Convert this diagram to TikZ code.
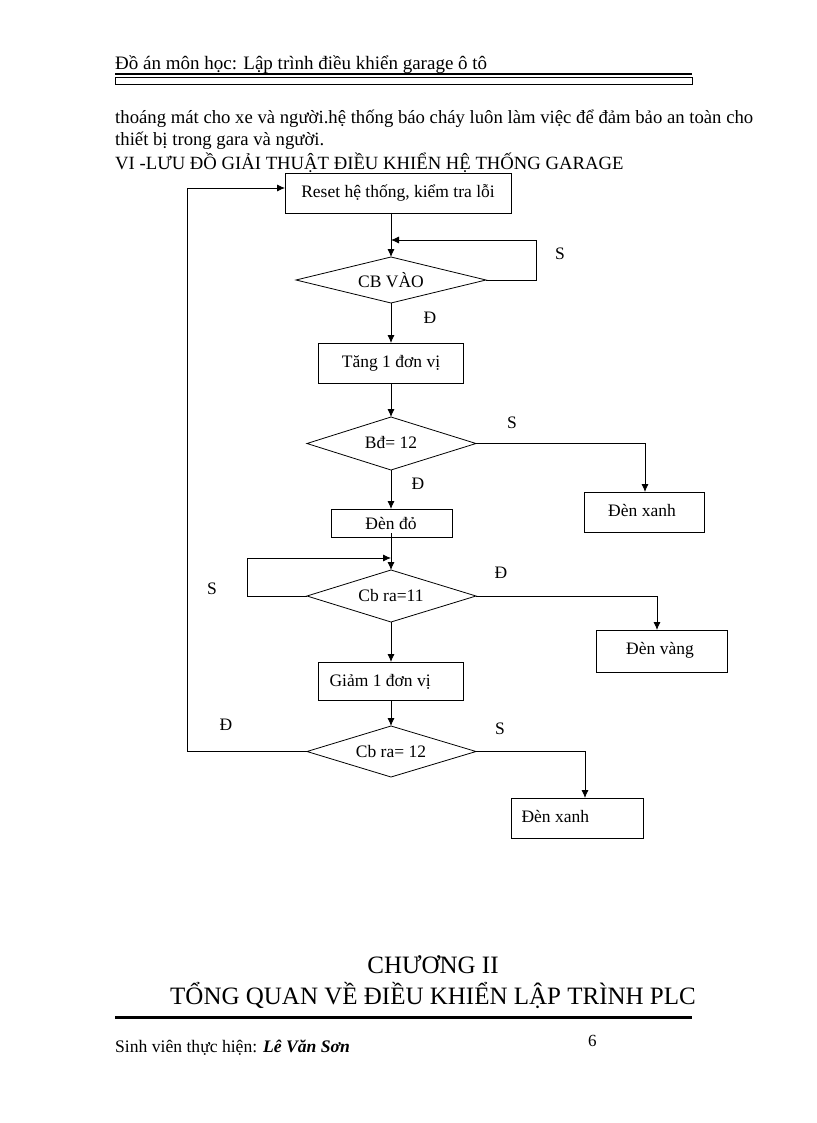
\documentclass[tikz,border=0pt]{standalone}
\usepackage{fontspec}
\setmainfont{Liberation Serif}
\usetikzlibrary{shapes.geometric,arrows.meta}
\begin{document}
\begin{tikzpicture}[x=1pt,y=-1pt,
  box/.style={draw,thick,inner sep=0pt},
  dia/.style={draw,thick,inner sep=0pt},
  lab/.style={font=\fontsize{17.5}{20}\selectfont},
  txt/.style={anchor=base west,inner sep=0pt,font=\fontsize{18.7}{22}\selectfont},
  ar/.style={thick,-{Latex[length=8pt,width=7pt]}},
  ln/.style={thick}]
\useasboundingbox (0,0) rectangle (816,1123);
% header
\node[txt,font=\fontsize{19}{22}\selectfont] (hd) at (115,70) {Đồ án môn học:  Lập trình điều khiển garage ô tô};
\draw[line width=2.5pt] (115,74) -- (692,74);
\draw[thick] (115,77.5) rectangle (692,84);
\node[txt] (p1) at (115,124) {thoáng mát cho xe và người.hệ thống báo cháy luôn làm việc để đảm bảo an toàn cho};
\node[txt] (p2) at (115,146) {thiết bị trong gara và người.};
\node[txt] (h1) at (115,170) {VI -LƯU ĐỒ GIẢI THUẬT ĐIỀU KHIỂN HỆ THỐNG GARAGE};
% flowchart
\draw[box] (285,173) rectangle (511,213);
\node[lab] (reset) at (398,193) {Reset hệ thống, kiểm tra lỗi};
\coordinate (resetL) at (285,188);
\coordinate (resetB) at (391,213);
\draw[dia] (296,280) -- (391,257) -- (486,280) -- (391,303) -- cycle;
\node[lab] (d1) at (391,280) {CB VÀO};
\coordinate (d1T) at (391,257); \coordinate (d1R) at (486,280); \coordinate (d1B) at (391,303);
\draw[box] (318,343) rectangle (463,383);
\node[lab] (b2) at (391,363) {Tăng 1 đơn vị};
\coordinate (b2T) at (391,343); \coordinate (b2B) at (391,383);
\draw[dia] (307,443.5) -- (391,417) -- (476,443.5) -- (391,470) -- cycle;
\node[lab] (d2) at (391,443) {Bđ= 12};
\coordinate (d2T) at (391,417); \coordinate (d2R) at (476,443.5); \coordinate (d2B) at (391,470);
\draw[box] (584,492) rectangle (704,532);
\node[lab] (x1) at (642,510) {Đèn xanh};
\coordinate (x1T) at (645,492);
\draw[box] (331,509) rectangle (452,537);
\node[lab] (do) at (391,523) {Đèn đỏ};
\coordinate (doT) at (391,509); \coordinate (doB) at (391,533);
\draw[dia] (307,596) -- (391,570) -- (476,596) -- (391,622) -- cycle;
\node[lab] (d3) at (391,596) {Cb ra=11};
\coordinate (d3T) at (391,570); \coordinate (d3L) at (307,596); \coordinate (d3R) at (476,596); \coordinate (d3B) at (391,622);
\draw[box] (596,630) rectangle (727,672);
\node[lab] (vang) at (660,650) {Đèn vàng};
\coordinate (vangT) at (657,630);
\draw[box] (318,662) rectangle (463,700);
\node[lab,anchor=west] (b3) at (326,682) {Giảm 1 đơn vị};
\coordinate (b3T) at (391,662); \coordinate (b3B) at (391,700);
\draw[dia] (307,751.5) -- (391,726) -- (476,751.5) -- (391,777) -- cycle;
\node[lab] (d4) at (391,752) {Cb ra= 12};
\coordinate (d4T) at (391,726); \coordinate (d4L) at (307,751.5); \coordinate (d4R) at (476,751.5);
\draw[box] (511,798) rectangle (643,838);
\node[lab,anchor=west] (x2) at (518,816) {Đèn xanh};
\coordinate (x2T) at (585,798);
% connectors
\draw[ar] (resetB) -- (d1T);
\draw[ar] (d1R) -- (536,280) -- (536,240) -- (391,240);
\draw[ar] (d1B) -- (b2T);
\draw[ar] (b2B) -- (d2T);
\draw[ar] (d2R) -- (645,443.5) -- (x1T);
\draw[ar] (d2B) -- (doT);
\draw[ar] (doB) -- (d3T);
\draw[ar] (d3L) -- (247,596) -- (247,558) -- (391,558);
\draw[ar] (d3R) -- (657,596) -- (vangT);
\draw[ar] (d3B) -- (b3T);
\draw[ar] (b3B) -- (d4T);
\draw[ar] (d4R) -- (585,751.5) -- (x2T);
\draw[ar] (d4L) -- (187,751.5) -- (187,188) -- (resetL);
% labels
\node[lab] (l1) at (560,254) {S};
\node[lab] (l2) at (430,318) {Đ};
\node[lab] (l3) at (512,423) {S};
\node[lab] (l4) at (418,484) {Đ};
\node[lab] (l5) at (212,589) {S};
\node[lab] (l6) at (501,573) {Đ};
\node[lab] (l7) at (226,725) {Đ};
\node[lab] (l8) at (500,729) {S};
% chapter
\node[font=\fontsize{25}{28}\selectfont,inner sep=0pt] (ch) at (433,965) {CHƯƠNG II};
\node[font=\fontsize{25}{28}\selectfont,inner sep=0pt] (ch2) at (433,995) {TỔNG QUAN VỀ ĐIỀU KHIỂN LẬP TRÌNH PLC};
\draw[line width=3pt] (115,1017) -- (692,1017);
\node[txt,font=\fontsize{17.6}{20}\selectfont] (ft) at (115,1052) {Sinh viên thực hiện: \textbf{\textit{Lê Văn Sơn}}};
\node[txt,font=\fontsize{17}{20}\selectfont] (pg) at (588,1046) {6};
\end{tikzpicture}
\end{document}
